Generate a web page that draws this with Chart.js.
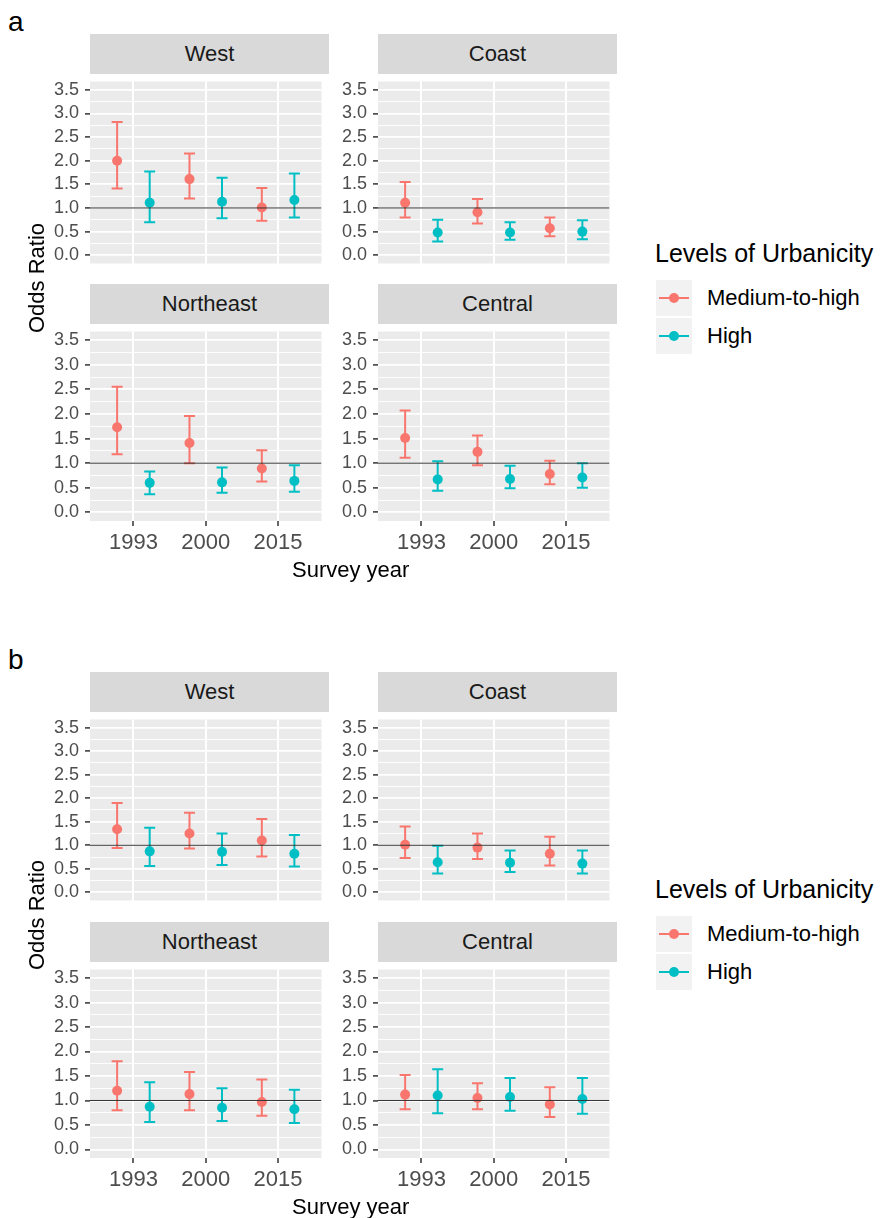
<!DOCTYPE html>
<html>
<head>
<meta charset="utf-8">
<script src="https://cdn.jsdelivr.net/npm/chart.js@4.4.1/dist/chart.umd.min.js"></script>
<style>
  body { margin: 0; background: #fff; font-family: "Liberation Sans", Arial, Helvetica, sans-serif; }
  #page { position: relative; width: 890px; height: 1218px; overflow: hidden; }
  .txt { position: absolute; white-space: nowrap; line-height: 1; }
  .strip { position: absolute; background: #D9D9D9; color: #1A1A1A; font-size: 22px;
           display: flex; align-items: center; justify-content: center; }
  .key { position: absolute; width: 36px; height: 36px; background: #F2F2F2; }
  .key .ln { position: absolute; left: 3px; top: 17px; width: 30px; height: 2px; }
  .key .dt { position: absolute; left: 13px; top: 13px; width: 10px; height: 10px; border-radius: 50%; }
</style>
</head>
<body>
<div id="page"></div>
<script>
// categories
const years = ["1993", "2000", "2015"];
const regions = ["West", "Coast", "Northeast", "Central"];
const levels = ["Medium-to-high", "High"];
const levelColors = ["#F8766D", "#00BFC4"];
const yBreaks = [0, 0.5, 1, 1.5, 2, 2.5, 3, 3.5];

// panel a: one row per region (West, Coast, Northeast, Central), one column per year
const aMedOR = [[2.00, 1.61, 1.01], [1.11, 0.91, 0.57], [1.73, 1.41, 0.89], [1.51, 1.23, 0.78]];
const aMedLo = [[1.41, 1.20, 0.73], [0.80, 0.67, 0.40], [1.18, 1.00, 0.63], [1.11, 0.96, 0.57]];
const aMedHi = [[2.82, 2.15, 1.42], [1.55, 1.19, 0.80], [2.55, 1.96, 1.26], [2.07, 1.56, 1.05]];
const aHighOR = [[1.11, 1.13, 1.17], [0.48, 0.48, 0.50], [0.60, 0.61, 0.64], [0.67, 0.68, 0.71]];
const aHighLo = [[0.70, 0.78, 0.80], [0.29, 0.33, 0.34], [0.37, 0.40, 0.42], [0.44, 0.49, 0.50]];
const aHighHi = [[1.77, 1.64, 1.73], [0.75, 0.70, 0.74], [0.83, 0.91, 0.96], [1.04, 0.95, 1.00]];

// panel b
const bMedOR = [[1.34, 1.25, 1.10], [1.01, 0.95, 0.82], [1.20, 1.13, 0.97], [1.12, 1.05, 0.92]];
const bMedLo = [[0.94, 0.93, 0.76], [0.73, 0.71, 0.57], [0.80, 0.80, 0.69], [0.82, 0.82, 0.66]];
const bMedHi = [[1.90, 1.69, 1.56], [1.40, 1.25, 1.18], [1.80, 1.58, 1.43], [1.52, 1.35, 1.27]];
const bHighOR = [[0.87, 0.86, 0.82], [0.64, 0.63, 0.61], [0.87, 0.85, 0.82], [1.10, 1.07, 1.03]];
const bHighLo = [[0.56, 0.58, 0.55], [0.40, 0.43, 0.40], [0.56, 0.58, 0.54], [0.74, 0.79, 0.73]];
const bHighHi = [[1.37, 1.25, 1.22], [0.99, 0.89, 0.89], [1.37, 1.25, 1.22], [1.64, 1.46, 1.46]];

const FONT = '"Liberation Sans", Arial, Helvetica, sans-serif';
Chart.defaults.font.family = FONT;
Chart.defaults.animation = false;
Chart.defaults.events = [];
Chart.defaults.plugins.legend.display = false;
Chart.defaults.plugins.tooltip.enabled = false;

const page = document.getElementById("page");
const AXW = 52;        // room for y tick labels
const XAXH = 42;       // room for x tick labels on bottom row
const PW = 239;        // panel width
const colLeft = [90, 378];
const dodge = [-0.225, 0.225];
const yGrid = yBreaks.concat(yBreaks.slice(1).map(v => v - 0.25)).sort((p, q) => p - q);
const isMajor = v => Math.abs(v * 2 - Math.round(v * 2)) < 1e-6;

// grey panel background
const panelBg = {
  id: "panelBg",
  beforeDraw(chart) {
    const a = chart.chartArea, c = chart.ctx;
    c.save();
    c.fillStyle = "#EBEBEB";
    c.fillRect(a.left, a.top, a.right - a.left, a.bottom - a.top);
    c.restore();
  }
};

function addText(str, left, top, size, extra) {
  const d = document.createElement("div");
  d.className = "txt";
  d.textContent = str;
  d.style.left = left + "px";
  d.style.top = top + "px";
  d.style.fontSize = size + "px";
  if (extra) Object.assign(d.style, extra);
  page.appendChild(d);
  return d;
}

function facet(left, top, h, bottomRow, title, est, lo, hi) {
  const strip = document.createElement("div");
  strip.className = "strip";
  strip.textContent = title;
  Object.assign(strip.style, { left: left + "px", top: (top - 40) + "px", width: PW + "px", height: "40px" });
  page.appendChild(strip);

  const cv = document.createElement("canvas");
  cv.width = AXW + PW;
  cv.height = h + (bottomRow ? XAXH : 0);
  Object.assign(cv.style, { position: "absolute", left: (left - AXW) + "px", top: top + "px" });
  page.appendChild(cv);

  const datasets = [{
    data: [{ x: 0.4, y: 1 }, { x: 3.6, y: 1 }],
    showLine: true, borderColor: "#333333", borderWidth: 1, pointRadius: 0
  }];
  const pts = [], caps = [], bars = [];
  levels.forEach((lv, s) => {
    const p = [], c = [], b = [];
    years.forEach((yr, j) => {
      const x = j + 1 + dodge[s];
      p.push({ x: x, y: est[s][j] });
      c.push({ x: x, y: lo[s][j] }, { x: x, y: hi[s][j] });
      b.push({ x: x, y: lo[s][j] }, { x: x, y: hi[s][j] }, { x: x, y: null });
    });
    pts.push({ data: p, pointRadius: 5, pointBackgroundColor: levelColors[s], pointBorderWidth: 0 });
    caps.push({ data: c, pointStyle: "line", pointRadius: 5.5, pointBorderColor: levelColors[s], pointBorderWidth: 2 });
    bars.push({ data: b, showLine: true, spanGaps: false, borderColor: levelColors[s], borderWidth: 2, pointRadius: 0 });
  });

  new Chart(cv, {
    type: "scatter",
    data: { datasets: datasets.concat(pts, caps, bars) },
    options: {
      responsive: false,
      devicePixelRatio: 1,
      layout: { padding: 0 },
      scales: {
        x: {
          type: "linear", min: 0.4, max: 3.6,
          afterBuildTicks: s => { s.ticks = years.map((y, j) => ({ value: j + 1 })); },
          afterFit: s => { s.height = bottomRow ? XAXH : 0; s.paddingLeft = 0; s.paddingRight = 0; },
          ticks: {
            display: bottomRow, autoSkip: false, maxRotation: 0, padding: 4,
            color: "#4D4D4D", font: { size: 22 },
            callback: (v, i) => years[i]
          },
          grid: { color: "#FFFFFF", lineWidth: 2, drawTicks: bottomRow, tickLength: 5, tickColor: "#333333", tickWidth: 1.5 },
          border: { display: false }
        },
        y: {
          type: "linear", min: -0.175, max: 3.675,
          afterBuildTicks: s => { s.ticks = yGrid.map(v => ({ value: v })); },
          afterFit: s => { s.width = AXW; s.paddingTop = 0; s.paddingBottom = 0; },
          ticks: {
            autoSkip: false, padding: 6, color: "#4D4D4D", font: { size: 18 },
            callback: v => isMajor(v) ? v.toFixed(1) : ""
          },
          grid: {
            color: "#FFFFFF",
            lineWidth: ctx => isMajor(ctx.tick.value) ? 1.8 : 0.9,
            tickLength: 5, tickWidth: 1.5,
            tickColor: ctx => isMajor(ctx.tick.value) ? "#333333" : "rgba(0,0,0,0)"
          },
          border: { display: false }
        }
      }
    },
    plugins: [panelBg]
  });
}

function figure(letter, off, rows, medOR, medLo, medHi, highOR, highLo, highHi) {
  addText(letter, 8, off + 8, 28, { color: "#000" });
  regions.forEach((name, k) => {
    const r = rows[Math.floor(k / 2)];
    facet(colLeft[k % 2], r.top, r.h, k >= 2, name,
      [medOR[k], highOR[k]], [medLo[k], highLo[k]], [medHi[k], highHi[k]]);
  });
  const mid = (rows[0].top - 40 + rows[1].top + rows[1].h) / 2;
  addText("Odds Ratio", 37, mid, 22, { transform: "translate(-50%, -50%) rotate(-90deg)", color: "#000" });
  addText("Survey year", 292, rows[1].top + rows[1].h + 38, 22, { color: "#000" });

  const lo = off === 0 ? 0 : off - 2;
  addText("Levels of Urbanicity", 655, lo + 241, 25, { color: "#000" });
  levels.forEach((lv, s) => {
    const ky = lo + 280 + s * 38;
    const key = document.createElement("div");
    key.className = "key";
    key.style.left = "656px";
    key.style.top = ky + "px";
    key.innerHTML = '<div class="ln"></div><div class="dt"></div>';
    key.children[0].style.background = levelColors[s];
    key.children[1].style.background = levelColors[s];
    page.appendChild(key);
    addText(lv, 707, ky + 7, 22, { color: "#000" });
  });
}

figure("a", 0, [{ top: 74, h: 197 }, { top: 324, h: 197 }],
  aMedOR, aMedLo, aMedHi, aHighOR, aHighLo, aHighHi);
figure("b", 638, [{ top: 712, h: 196 }, { top: 962, h: 196 }],
  bMedOR, bMedLo, bMedHi, bHighOR, bHighLo, bHighHi);
</script>
</body>
</html>
